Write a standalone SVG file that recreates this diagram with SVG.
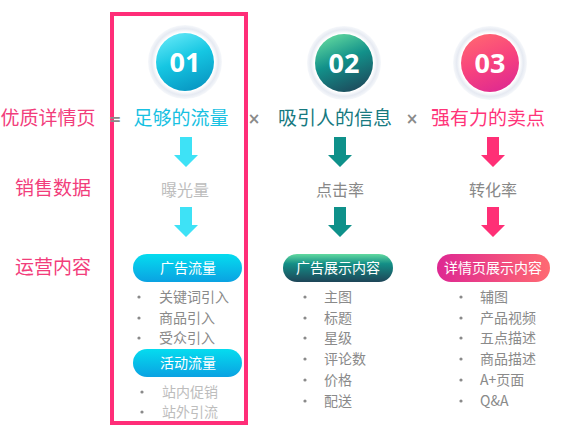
<svg xmlns="http://www.w3.org/2000/svg" width="573" height="436" viewBox="0 0 573 436">
<defs>
<linearGradient id="g1" x1="0.3" y1="0" x2="0.7" y2="1"><stop offset="0" stop-color="#5fe6f6"/><stop offset="0.45" stop-color="#15c6e2"/><stop offset="1" stop-color="#0896c2"/></linearGradient>
<linearGradient id="g2" x1="0.3" y1="0" x2="0.7" y2="1"><stop offset="0" stop-color="#5fd69e"/><stop offset="0.45" stop-color="#12918a"/><stop offset="1" stop-color="#1d4a5c"/></linearGradient>
<linearGradient id="g3" x1="0.3" y1="0" x2="0.7" y2="1"><stop offset="0" stop-color="#ff6472"/><stop offset="0.5" stop-color="#f7427e"/><stop offset="1" stop-color="#df2a90"/></linearGradient>
<linearGradient id="p1" x1="0" y1="0" x2="0" y2="1"><stop offset="0" stop-color="#05dcef"/><stop offset="1" stop-color="#0aa2e2"/></linearGradient>
<linearGradient id="p2" x1="0" y1="0" x2="0" y2="1"><stop offset="0" stop-color="#62daa0"/><stop offset="0.35" stop-color="#138e86"/><stop offset="1" stop-color="#1e4558"/></linearGradient>
<linearGradient id="p3" x1="0" y1="0" x2="1" y2="0"><stop offset="0" stop-color="#de2892"/><stop offset="1" stop-color="#ff6a72"/></linearGradient>
<radialGradient id="ring" cx="0.5" cy="0.5" r="0.5"><stop offset="0.8" stop-color="#ffffff"/><stop offset="0.9" stop-color="#e6eaf2"/><stop offset="1" stop-color="#f6f8fb"/></radialGradient>
<path id="arr" d="M-6,0 H6 V18 H12 L0,30 L-12,18 H-6 Z"/>
</defs>
<style>
text{font-family:"Noto Sans CJK SC","Noto Sans",sans-serif;}
.lab{font-size:19px;fill:#f23d7b;text-anchor:middle;}
.ttl{font-size:19px;text-anchor:middle;}
.op{font-family:"DejaVu Sans",sans-serif;font-size:15px;font-weight:bold;fill:#8a8a8a;text-anchor:middle;}
.num{font-family:"Open Sans","DejaVu Sans",sans-serif;font-weight:bold;font-size:27px;fill:#fff;text-anchor:middle;}
.met{font-size:16px;text-anchor:middle;}
.pill{font-size:14px;fill:#fff;text-anchor:middle;}
.li{font-size:14px;fill:#8a8a8a;}
.lil{font-size:14px;fill:#bdbdbd;}
.dot{fill:#8a8a8a;}
</style>
<rect x="112" y="14" width="134" height="409" fill="none" stroke="#ff2d78" stroke-width="4"/>
<g id="labels">
<text class="lab" x="48" y="125">优质详情页</text>
<text class="lab" x="53" y="195">销售数据</text>
<text class="lab" x="53" y="274">运营内容</text>
<text class="op" x="115" y="124">=</text>
<text class="op" x="254" y="124">×</text>
<text class="op" x="412" y="124">×</text>
</g>
<g id="node1">
<circle cx="185" cy="62" r="37" fill="url(#ring)"/>
<circle cx="185" cy="62" r="29" fill="url(#g1)"/>
<text class="num" x="185" y="72">01</text>
<text class="ttl" x="181" y="125" fill="#18c1e2">足够的流量</text>
<text class="met" x="185" y="196" fill="#bdbdbd">曝光量</text>
</g>
<g id="node2">
<circle cx="344" cy="63" r="37" fill="url(#ring)"/>
<circle cx="344" cy="63" r="29" fill="url(#g2)"/>
<text class="num" x="344" y="73">02</text>
<text class="ttl" x="335" y="125" fill="#16797f">吸引人的信息</text>
<text class="met" x="340" y="196" fill="#888">点击率</text>
</g>
<g id="node3">
<circle cx="490" cy="63" r="37" fill="url(#ring)"/>
<circle cx="490" cy="63" r="29" fill="url(#g3)"/>
<text class="num" x="490" y="73">03</text>
<text class="ttl" x="488" y="125" fill="#ff3479">强有力的卖点</text>
<text class="met" x="493" y="196" fill="#888">转化率</text>
</g>
<g id="connectors">
<use href="#arr" x="186" y="137" fill="#3ee2f6"/>
<use href="#arr" x="186" y="207" fill="#3ee2f6"/>
<use href="#arr" x="340" y="137" fill="#0e918a"/>
<use href="#arr" x="340" y="207" fill="#0e918a"/>
<use href="#arr" x="493" y="137" fill="#ff2f76"/>
<use href="#arr" x="493" y="207" fill="#ff2f76"/>
</g>
<g id="pill1">
<rect x="133" y="254" width="109" height="28" rx="14" fill="url(#p1)"/>
<text class="pill" x="188" y="273">广告流量</text>
</g>
<g id="list1">
<circle class="dot" cx="139" cy="297" r="1.6"/><text class="li" x="159" y="302">关键词引入</text>
<circle class="dot" cx="139" cy="318" r="1.6"/><text class="li" x="159" y="323">商品引入</text>
<circle class="dot" cx="139" cy="338" r="1.6"/><text class="li" x="159" y="343">受众引入</text>
</g>
<g id="pill1b">
<rect x="133" y="349" width="109" height="28" rx="14" fill="url(#p1)"/>
<text class="pill" x="188" y="368">活动流量</text>
</g>
<g id="list1b">
<circle class="dot" cx="142" cy="392" r="1.6"/><text class="lil" x="162" y="397">站内促销</text>
<circle class="dot" cx="142" cy="412" r="1.6"/><text class="lil" x="162" y="417">站外引流</text>
</g>
<g id="pill2">
<rect x="283" y="254" width="110" height="28" rx="14" fill="url(#p2)"/>
<text class="pill" x="338" y="273">广告展示内容</text>
</g>
<g id="list2">
<circle class="dot" cx="305" cy="297" r="1.6"/><text class="li" x="324" y="302">主图</text>
<circle class="dot" cx="305" cy="318" r="1.6"/><text class="li" x="324" y="323">标题</text>
<circle class="dot" cx="305" cy="338" r="1.6"/><text class="li" x="324" y="343">星级</text>
<circle class="dot" cx="305" cy="359" r="1.6"/><text class="li" x="324" y="364">评论数</text>
<circle class="dot" cx="305" cy="380" r="1.6"/><text class="li" x="324" y="385">价格</text>
<circle class="dot" cx="305" cy="401" r="1.6"/><text class="li" x="324" y="406">配送</text>
</g>
<g id="pill3">
<rect x="437" y="254" width="113" height="28" rx="14" fill="url(#p3)"/>
<text class="pill" x="493" y="273">详情页展示内容</text>
</g>
<g id="list3">
<circle class="dot" cx="461" cy="297" r="1.6"/><text class="li" x="480" y="302">辅图</text>
<circle class="dot" cx="461" cy="318" r="1.6"/><text class="li" x="480" y="323">产品视频</text>
<circle class="dot" cx="461" cy="338" r="1.6"/><text class="li" x="480" y="343">五点描述</text>
<circle class="dot" cx="461" cy="359" r="1.6"/><text class="li" x="480" y="364">商品描述</text>
<circle class="dot" cx="461" cy="380" r="1.6"/><text class="li" x="480" y="385">A+页面</text>
<circle class="dot" cx="461" cy="401" r="1.6"/><text class="li" x="480" y="406">Q&amp;A</text>
</g>
</svg>
